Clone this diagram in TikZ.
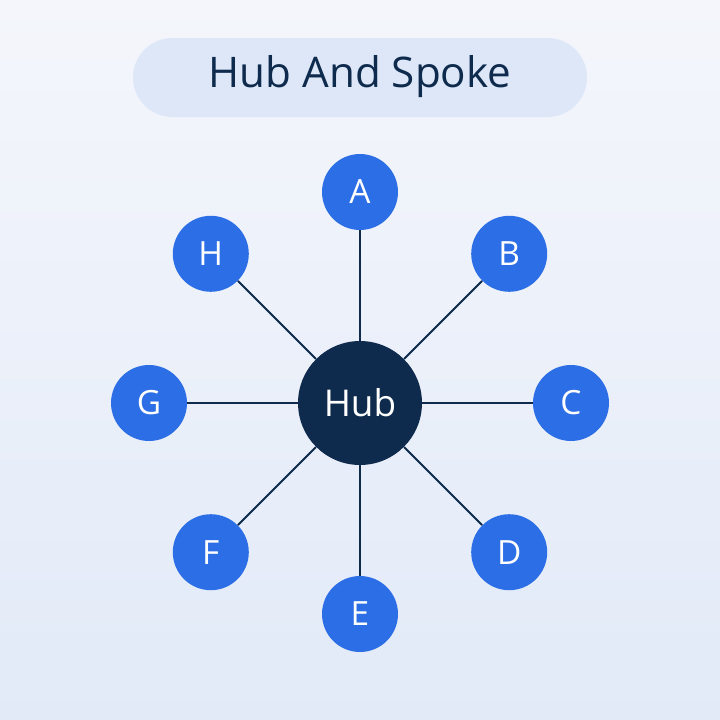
\documentclass[tikz,border=0pt]{standalone}
\usepackage{fontspec}
\setmainfont{Open Sans}
\usetikzlibrary{arrows}
\definecolor{bgtop}{HTML}{F4F6FB}
\definecolor{bgbot}{HTML}{E2EAF8}
\definecolor{pill}{HTML}{DDE7F8}
\definecolor{navy}{HTML}{0E2A4C}
\definecolor{spokeblue}{HTML}{2C6EE6}
\tikzset{
	spoke/.style={circle,fill=spokeblue,text=white,minimum size=1.52cm,inner sep=0pt,font=\fontsize{19}{19}\selectfont},
	hub/.style={circle,fill=navy,text=white,minimum size=2.48cm,inner sep=0pt,font=\fontsize{21}{21}\selectfont},
	link/.style={draw=navy,line width=1.1pt}
}
\begin{document}
\begin{tikzpicture}[x=0.02cm,y=-0.02cm]
			\shade[top color=bgtop,bottom color=bgbot] (0,0) rectangle (720,720);
			\useasboundingbox (0,0) rectangle (720,720);
			
			% title
			\fill[pill,rounded corners=0.79cm] (133,38) rectangle (587,117);
			\node[text=navy,font=\fontsize{24}{24}\selectfont] (title) at (360,77) {Hub And Spoke};
			
			% hub
			\node[hub] (H0) at (360,403) {Hub};
			
			% spokes
			\foreach \l [count=\i] in {A,B,C,D,E,F,G,H} {
				\pgfmathsetmacro{\px}{360 + 211*cos(90 - (\i-1)*45)}
				\pgfmathsetmacro{\py}{403 - 211*sin(90 - (\i-1)*45)}
				\node[spoke] (S\i) at (\px,\py) {\l};
			}
			\foreach \i in {1,...,8} {
				\draw[link] (H0) -- (S\i);
			}
		\end{tikzpicture}
\end{document}
